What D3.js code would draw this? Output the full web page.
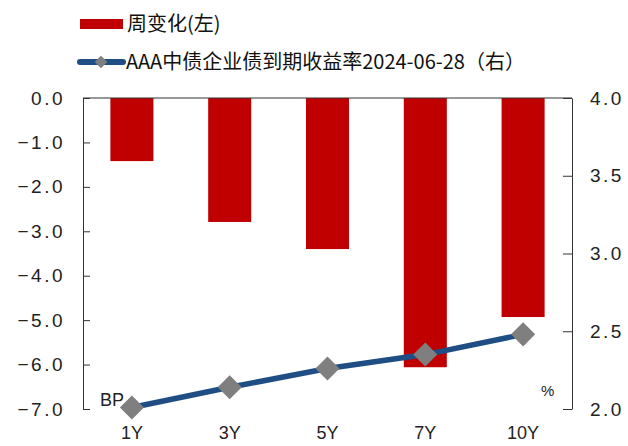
<!DOCTYPE html>
<meta charset="utf-8">
<style>
body { margin: 0; background: #fff; }
.tick text { font-family: "Liberation Sans", Arial, sans-serif; font-size: 19px; fill: #222; letter-spacing: 2.5px; }
.legend text { font-family: "Noto Sans CJK SC", sans-serif; font-size: 20px; fill: #111; }
.cat { font-family: "Liberation Sans", Arial, sans-serif; font-size: 18px; fill: #222; text-anchor: middle; }
.unit { font-family: "Liberation Sans", Arial, sans-serif; fill: #222; }
</style>
<svg width="628" height="446"></svg>
<script src="https://cdn.jsdelivr.net/npm/d3@7"></script>
<script>

var categories = ["1Y", "3Y", "5Y", "7Y", "10Y"];
var weeklyChange = [-1.42, -2.79, -3.40, -6.06, -4.93];
var yieldRate = [2.01, 2.14, 2.26, 2.35, 2.48];
var leftTicks = [0, -1, -2, -3, -4, -5, -6, -7];
var rightTicks = [2.0, 2.5, 3.0, 3.5, 4.0];

var svg = d3.select("svg"),
    plotLeft = 83, plotRight = 572, plotTop = 98, plotBottom = 409;

var x = d3.scaleBand()
    .domain(categories)
    .range([plotLeft, plotRight])
    .paddingInner(0.56)
    .paddingOuter(0.28);

var yL = d3.scaleLinear().domain([-7, 0]).range([plotBottom, plotTop]);
var yR = d3.scaleLinear().domain([2, 4]).range([plotBottom, plotTop]);

var fmt = d3.format(".1f");

// bars
svg.append("g").selectAll("rect")
    .data(weeklyChange)
    .enter().append("rect")
      .attr("x", function(d, i) { return x(categories[i]); })
      .attr("y", yL(0))
      .attr("width", x.bandwidth())
      .attr("height", function(d) { return yL(d) - yL(0); })
      .attr("fill", "#c00000");

// horizontal axis line at zero
svg.append("line")
    .attr("x1", plotLeft).attr("x2", plotRight)
    .attr("y1", yL(0)).attr("y2", yL(0))
    .attr("stroke", "#333").attr("stroke-width", 1);

// left axis
var gL = svg.append("g")
    .attr("transform", "translate(" + plotLeft + ",0)")
    .call(d3.axisLeft(yL).tickValues(leftTicks).tickFormat(fmt)
      .tickSizeInner(-7).tickSizeOuter(0).tickPadding(18));
gL.select(".domain").attr("stroke", "#333");
gL.selectAll(".tick line").attr("stroke", "#333");

// right axis
var gR = svg.append("g")
    .attr("transform", "translate(" + plotRight + ",0)")
    .call(d3.axisRight(yR).tickValues(rightTicks).tickFormat(fmt)
      .tickSizeInner(-9).tickSizeOuter(0).tickPadding(18));
gR.select(".domain").attr("stroke", "#333");
gR.selectAll(".tick line").attr("stroke", "#333");

// category labels
svg.append("g").selectAll("text")
    .data(categories)
    .enter().append("text")
      .attr("class", "cat")
      .attr("x", function(d) { return x(d) + x.bandwidth() / 2; })
      .attr("y", 439)
      .text(function(d) { return d; });

// line + markers
var line = d3.line()
    .x(function(d, i) { return x(categories[i]) + x.bandwidth() / 2; })
    .y(function(d) { return yR(d); });

svg.append("path")
    .datum(yieldRate)
    .attr("d", line)
    .attr("fill", "none")
    .attr("stroke", "#1f4e84")
    .attr("stroke-width", 5.5);

var diamond = d3.symbol().type(d3.symbolSquare).size(290);
svg.append("g").selectAll("path")
    .data(yieldRate)
    .enter().append("path")
      .attr("d", diamond)
      .attr("fill", "#7f7f7f")
      .attr("transform", function(d, i) {
        return "translate(" + (x(categories[i]) + x.bandwidth() / 2) + "," + yR(d) + ") rotate(45)";
      });

// unit labels
svg.append("text").attr("class", "unit").attr("x", 100).attr("y", 406)
    .attr("font-size", 18).text("BP");
svg.append("text").attr("class", "unit").attr("x", 541).attr("y", 396)
    .attr("font-size", 15).text("%");

// legend
var lg = svg.append("g").attr("class", "legend");
lg.append("rect").attr("x", 80).attr("y", 19).attr("width", 43).attr("height", 10).attr("fill", "#c00000");
lg.append("text").attr("x", 127).attr("y", 31).text("周变化(左)");
lg.append("line").attr("x1", 80).attr("x2", 123).attr("y1", 62).attr("y2", 62)
    .attr("stroke", "#1f4e84").attr("stroke-width", 6).attr("stroke-linecap", "round");
lg.append("path").attr("d", d3.symbol().type(d3.symbolSquare).size(80))
    .attr("fill", "#7f7f7f").attr("transform", "translate(101,62) rotate(45)");
lg.append("text").attr("x", 126).attr("y", 69).text("AAA中债企业债到期收益率2024-06-28（右）");

</script>
